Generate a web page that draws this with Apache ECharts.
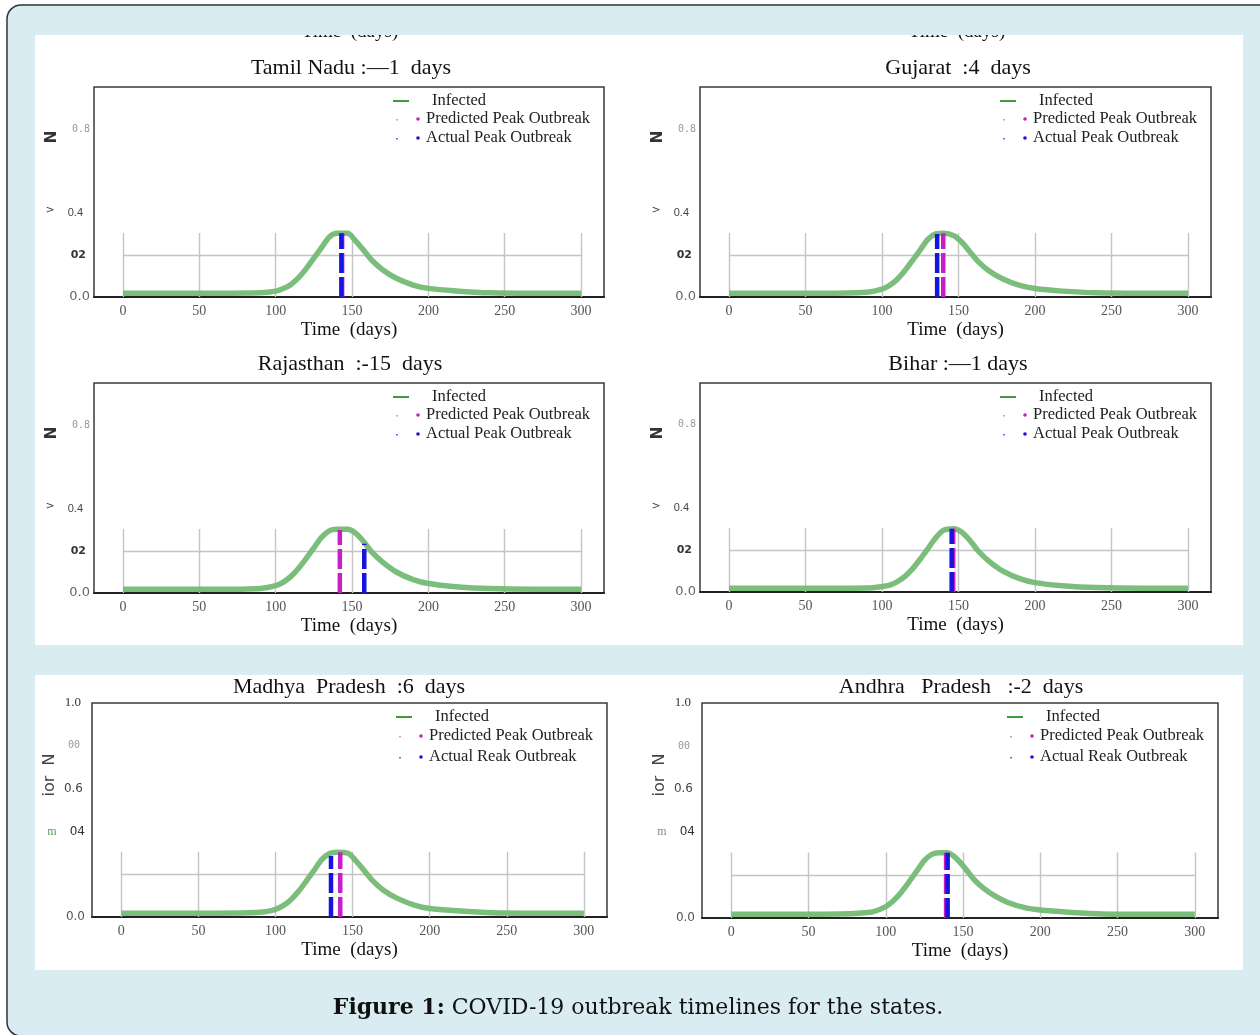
<!DOCTYPE html>
<html>
<head>
<meta charset="utf-8">
<script src="https://cdn.jsdelivr.net/npm/echarts@6/dist/echarts.min.js"></script>
<style>
html, body { margin: 0; padding: 0; background: #fff; }
#main { width: 1260px; height: 1035px; }
</style>
</head>
<body>
<div id="main"></div>
<script>
// time axis shared by all six simulations (days)
var days = [0, 60, 90, 100, 105, 110, 115, 120, 125, 130, 135, 140, 147, 152, 157, 163, 170, 179, 190, 200, 218, 240, 270, 300];

// infected fraction
var tamilNadu     = [0.018, 0.018, 0.020, 0.028, 0.040, 0.060, 0.092, 0.135, 0.185, 0.235, 0.285, 0.303, 0.303, 0.270, 0.228, 0.175, 0.130, 0.089, 0.057, 0.041, 0.029, 0.020, 0.018, 0.018];
var gujarat       = [0.018, 0.018, 0.023, 0.037, 0.056, 0.085, 0.126, 0.175, 0.225, 0.275, 0.300, 0.303, 0.292, 0.262, 0.219, 0.167, 0.124, 0.086, 0.055, 0.040, 0.028, 0.020, 0.018, 0.018];
var rajasthan     = [0.018, 0.018, 0.022, 0.035, 0.052, 0.079, 0.118, 0.165, 0.215, 0.265, 0.296, 0.303, 0.303, 0.287, 0.250, 0.195, 0.147, 0.100, 0.064, 0.045, 0.030, 0.021, 0.018, 0.018];
var bihar         = [0.018, 0.018, 0.019, 0.026, 0.033, 0.050, 0.075, 0.112, 0.158, 0.208, 0.258, 0.295, 0.303, 0.287, 0.250, 0.195, 0.147, 0.100, 0.064, 0.045, 0.030, 0.021, 0.018, 0.018];
var madhyaPradesh = [0.018, 0.018, 0.022, 0.036, 0.053, 0.081, 0.120, 0.168, 0.218, 0.268, 0.297, 0.303, 0.298, 0.264, 0.221, 0.170, 0.125, 0.087, 0.056, 0.040, 0.029, 0.020, 0.018, 0.018];
var andhraPradesh = [0.018, 0.018, 0.027, 0.053, 0.081, 0.120, 0.168, 0.218, 0.268, 0.297, 0.303, 0.303, 0.267, 0.225, 0.180, 0.140, 0.105, 0.072, 0.048, 0.037, 0.027, 0.019, 0.018, 0.018];
var infected = [tamilNadu, gujarat, rajasthan, bihar, madhyaPradesh, andhraPradesh];

var titles = ['Tamil Nadu :\u20141  days', 'Gujarat  :4  days', 'Rajasthan  :-15  days', 'Bihar :\u20141 days', 'Madhya  Pradesh  :6  days', 'Andhra   Pradesh   :-2  days'];

// peak outbreak markers: day and the height the dashed line reaches
var predictedDay = [143.5, 140, 142, 146.5, 142, 139];
var predictedTop = [0.303, 0.303, 0.300, 0.303, 0.303, 0.303];
var actualDay    = [143, 136, 158, 145.5, 136, 140];
var actualTop    = [0.303, 0.300, 0.235, 0.303, 0.285, 0.303];

var legendNames = ['Infected', 'Predicted Peak Outbreak', 'Actual Peak Outbreak'];
var actualLegend = ['Actual Peak Outbreak', 'Actual Peak Outbreak', 'Actual Peak Outbreak', 'Actual Peak Outbreak', 'Actual Reak Outbreak', 'Actual Reak Outbreak'];

var xTicks = [0, 50, 100, 150, 200, 250, 300];
var xTickLabels = ['0', '50', '100', '150', '200', '250', '300'];
var innerGridTop = 0.305;
var innerGridLevel = 0.2;
var yTicksTop = [0, 0.2, 0.4, 0.8];
var yLabelsTop = ['0.0', '02', '0.4', '0.8'];
var yTicksBottom = [0, 0.4, 0.6, 0.8, 1.0];
var yLabelsBottom = ['0.0', '04', '0.6', '00', '1.0'];

var SERIF = '"Liberation Serif", "DejaVu Serif", serif';
var SANS = '"DejaVu Sans", "Liberation Sans", sans-serif';
var GREEN = '#74b974';
var MAGENTA = '#c81ec8';
var BLUE = '#1515e0';

var boxes = [
	{left: 94, top: 87, width: 510, height: 210, tx: 351},
	{left: 700, top: 87, width: 511, height: 210, tx: 958},
	{left: 94, top: 383, width: 510, height: 210, tx: 350},
	{left: 700, top: 383, width: 511, height: 209, tx: 958},
	{left: 92, top: 703, width: 515, height: 214, tx: 349},
	{left: 702, top: 703, width: 516, height: 215, tx: 961}
];

var richTop = {
	a: {fontFamily: SANS, fontSize: 13, color: '#666', padding: [0, 2, 0, 0]},
	b: {fontFamily: SANS, fontSize: 11, fontWeight: 'bold', color: '#333', padding: [0, 6, 0, 0]},
	c: {fontFamily: '"Liberation Sans Narrow", "Liberation Sans", sans-serif', fontSize: 11, color: '#444', padding: [0, 9, 0, 0]},
	d: {fontFamily: '"DejaVu Sans Mono", monospace', fontSize: 10, color: '#999', padding: [0, 2, 0, 0]}
};
var richBottom = {
	a: {fontFamily: SANS, fontSize: 12, color: '#555', padding: [0, 5, 0, 0]},
	b: {fontFamily: SANS, fontSize: 12, color: '#333', padding: [0, 5, 0, 0]},
	c: {fontFamily: SANS, fontSize: 12, color: '#444', padding: [0, 7, 0, 0]},
	d: {fontFamily: '"DejaVu Sans Mono", monospace', fontSize: 10, color: '#999', padding: [0, 10, 0, 0]},
	e: {fontFamily: SERIF, fontSize: 13, color: '#333', padding: [0, 9, 0, 0]}
};

function yFormatter(ticks, labels) {
	return function (v) {
		for (var k = 0; k < ticks.length; k++) {
			if (Math.abs(ticks[k] - v) < 1e-6) {
				return '{' + 'abcde'.charAt(k) + '|' + labels[k] + '}';
			}
		}
		return '';
	};
}

var grids = [], xAxes = [], yAxes = [], series = [];
var graphics = [];

// page background, white panels
graphics.push({type: 'rect', z: -10, shape: {x: 7, y: 5, width: 1270, height: 1031, r: 14},
	style: {fill: '#d8ecf1', stroke: '#333', lineWidth: 1.5}});
graphics.push({type: 'rect', z: -9, shape: {x: 35, y: 35, width: 1208, height: 610}, style: {fill: '#fff'}});
graphics.push({type: 'rect', z: -9, shape: {x: 35, y: 675, width: 1208, height: 295}, style: {fill: '#fff'}});
// axis names of the rows above, cut off by the page crop
[350, 957].forEach(function (cx) {
	graphics.push({type: 'text', z: -8, x: cx, y: 32,
		style: {text: 'Time  (days)', font: '19px ' + SERIF, fill: '#111', align: 'center', verticalAlign: 'middle'}});
});
graphics.push({type: 'rect', z: -7, shape: {x: 35, y: 8, width: 1208, height: 27}, style: {fill: '#d8ecf1'}});

for (var i = 0; i < 6; i++) {
	var b = boxes[i];
	var bottomRow = i >= 4;
	grids.push({left: b.left, top: b.top, width: b.width, height: b.height, show: true,
		borderColor: '#3a3a3a', borderWidth: 1.5, backgroundColor: 'transparent'});
	xAxes.push({
		type: 'value', gridIndex: i, min: -19, max: 315,
		splitLine: {show: false}, axisTick: {show: false},
		axisLine: {show: true, onZero: false, lineStyle: {color: '#222', width: 2}},
		axisLabel: {
			customValues: xTicks,
			formatter: function (v) { return xTickLabels[xTicks.indexOf(v)]; },
			color: '#555', fontFamily: SERIF, fontSize: 14, margin: 7
		}
	});
	yAxes.push({
		type: 'value', gridIndex: i, min: 0, max: 1,
		splitLine: {show: false}, axisTick: {show: false}, axisLine: {show: false},
		axisLabel: {
			customValues: bottomRow ? yTicksBottom : yTicksTop,
			formatter: bottomRow ? yFormatter(yTicksBottom, yLabelsBottom) : yFormatter(yTicksTop, yLabelsTop),
			rich: bottomRow ? richBottom : richTop,
			margin: 2
		}
	});

	var guide = xTicks.map(function (d) { return {coords: [[d, 0], [d, innerGridTop]]}; });
	guide.push({coords: [[xTicks[0], innerGridLevel], [xTicks[xTicks.length - 1], innerGridLevel]]});
	series.push({
		type: 'lines', coordinateSystem: 'cartesian2d', xAxisIndex: i, yAxisIndex: i, silent: true, z: 1,
		polyline: false, lineStyle: {color: '#c4c4c4', width: 1.4, opacity: 1}, data: guide
	});
	series.push({
		name: legendNames[0], type: 'line', xAxisIndex: i, yAxisIndex: i, z: 3,
		smooth: 0.3, showSymbol: false, silent: true,
		lineStyle: {color: GREEN, width: 5.5, opacity: 0.95},
		data: days.map(function (d, k) { return [d, infected[i][k]]; })
	});
	series.push({
		name: legendNames[1], type: 'line', xAxisIndex: i, yAxisIndex: i, z: 4,
		showSymbol: false, silent: true,
		lineStyle: {color: MAGENTA, width: 4.5, type: [20, 4]},
		data: [[predictedDay[i], 0], [predictedDay[i], predictedTop[i]]]
	});
	series.push({
		name: legendNames[2], type: 'line', xAxisIndex: i, yAxisIndex: i, z: 5,
		showSymbol: false, silent: true,
		lineStyle: {color: BLUE, width: 4.5, type: [20, 4]},
		data: [[actualDay[i], 0], [actualDay[i], actualTop[i]]]
	});

	var right = b.left + b.width;
	var cx = b.left + b.width / 2;
	var r1 = b.top + 14, r2 = b.top + (bottomRow ? 33 : 32), r3 = b.top + (bottomRow ? 54 : 51);
	// panel title and axis name
	graphics.push({type: 'text', x: b.tx, y: b.top - (bottomRow ? 16 : 19),
		style: {text: titles[i], font: '22px ' + SERIF, fill: '#111', align: 'center', verticalAlign: 'middle'}});
	graphics.push({type: 'text', x: cx, y: b.top + b.height + 33,
		style: {text: 'Time  (days)', font: '19px ' + SERIF, fill: '#111', align: 'center', verticalAlign: 'middle'}});
	// legend
	graphics.push({type: 'line', shape: {x1: right - 211, y1: r1, x2: right - 195, y2: r1}, style: {stroke: '#3f9a3f', lineWidth: 2}});
	graphics.push({type: 'text', x: right - 172, y: r1, style: {text: legendNames[0], font: '16.5px ' + SERIF, fill: '#222', verticalAlign: 'middle'}});
	graphics.push({type: 'rect', shape: {x: right - 208, y: r2, width: 2, height: 1.5}, style: {fill: '#e08ae0'}});
	graphics.push({type: 'circle', shape: {cx: right - 186, cy: r2, r: 1.8}, style: {fill: MAGENTA}});
	graphics.push({type: 'text', x: right - 178, y: r2, style: {text: legendNames[1], font: '16.5px ' + SERIF, fill: '#222', verticalAlign: 'middle'}});
	graphics.push({type: 'rect', shape: {x: right - 208, y: r3, width: 2, height: 1.5}, style: {fill: '#6a6ae6'}});
	graphics.push({type: 'circle', shape: {cx: right - 186, cy: r3, r: 1.8}, style: {fill: BLUE}});
	graphics.push({type: 'text', x: right - 178, y: r3, style: {text: actualLegend[i], font: '16.5px ' + SERIF, fill: '#222', verticalAlign: 'middle'}});
	// scanned y-axis name fragments
	if (!bottomRow) {
		graphics.push({type: 'text', x: b.left - 42, y: b.top + 50, rotation: Math.PI / 2,
			style: {text: 'N', font: 'bold 15px ' + SANS, fill: '#333', align: 'center', verticalAlign: 'middle'}});
		graphics.push({type: 'text', x: b.left - 44, y: b.top + 123,
			style: {text: '>', font: '11px ' + SANS, fill: '#444', align: 'center', verticalAlign: 'middle'}});
	} else {
		graphics.push({type: 'text', x: b.left - 42, y: b.top + 72, rotation: Math.PI / 2,
			style: {text: 'ior  N', font: '16px ' + SANS, fill: '#444', align: 'center', verticalAlign: 'middle'}});
		graphics.push({type: 'text', x: b.left - 40, y: b.top + 129,
			style: {text: 'm', font: '12px ' + SERIF, fill: i === 4 ? '#5a9a5a' : '#888', align: 'center', verticalAlign: 'middle'}});
	}
}

graphics.push({type: 'text', x: 638, y: 1008,
	style: {text: '{b|Figure 1:} COVID-19 outbreak timelines for the states.', font: '22px "DejaVu Serif", serif', fill: '#111',
		align: 'center', verticalAlign: 'middle', rich: {b: {font: 'bold 22px "DejaVu Serif", serif', fill: '#111'}}}});

var chart = echarts.init(document.getElementById('main'));
chart.setOption({
	animation: false,
	backgroundColor: '#fff',
	grid: grids,
	xAxis: xAxes,
	yAxis: yAxes,
	series: series,
	graphic: {elements: graphics}
});
</script>
</body>
</html>
